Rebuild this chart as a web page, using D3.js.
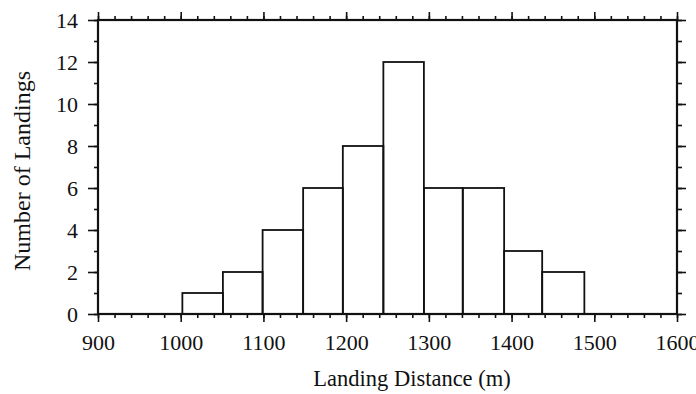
<!DOCTYPE html>
<html>
<head>
<meta charset="utf-8">
<script src="https://cdn.jsdelivr.net/npm/d3@7"></script>
<style>
  html, body { margin: 0; padding: 0; background: #fff; }
  svg { display: block; }
  text { font-family: "Liberation Serif", "Times New Roman", serif; fill: #111; }
</style>
</head>
<body>
<svg id="chart" width="696" height="394"></svg>
<script>
// bin edges (m) and counts
var binEdges = [1002, 1051, 1099, 1148, 1196, 1245, 1294, 1341, 1391, 1437, 1488];
var landingCounts = [1, 2, 4, 6, 8, 12, 6, 6, 3, 2];
var xTickValues = [900, 1000, 1100, 1200, 1300, 1400, 1500, 1600];
var yTickValues = [0, 2, 4, 6, 8, 10, 12, 14];

var svg = d3.select('#chart');
var margin = {top: 20, right: 19, bottom: 80, left: 98},
    width = 696 - margin.left - margin.right,
    height = 394 - margin.top - margin.bottom;

var g = svg.append('g').attr('transform', 'translate(' + margin.left + ',' + margin.top + ')');

var xScale = d3.scaleLinear().domain([900, 1600]).range([0, width]);
var yScale = d3.scaleLinear().domain([0, 14]).range([height, 0]);

var xMinor = d3.range(900, 1601, 20);
var yMinor = d3.range(0, 15, 1);

function styleAxis(sel) {
    sel.select('.domain').remove();
    sel.selectAll('line').attr('stroke', '#111').attr('stroke-width', 1.6);
    sel.selectAll('text').style('font-size', '22px').attr('fill', '#111');
}

// bars
var bins = landingCounts.map(function(c, i) {
    return {x0: binEdges[i], x1: binEdges[i + 1], count: c};
});
g.selectAll('rect.bar').data(bins).enter().append('rect')
    .attr('class', 'bar')
    .attr('x', function(d) { return xScale(d.x0); })
    .attr('y', function(d) { return yScale(d.count); })
    .attr('width', function(d) { return xScale(d.x1) - xScale(d.x0); })
    .attr('height', function(d) { return height - yScale(d.count); })
    .attr('fill', 'none')
    .attr('stroke', '#111')
    .attr('stroke-width', 1.8);

// minor ticks on all four sides
g.append('g').attr('transform', 'translate(0,' + height + ')')
    .call(d3.axisBottom(xScale).tickValues(xMinor).tickSize(4).tickFormat(''))
    .call(styleAxis);
g.append('g')
    .call(d3.axisTop(xScale).tickValues(xMinor).tickSize(4).tickFormat(''))
    .call(styleAxis);
g.append('g')
    .call(d3.axisLeft(yScale).tickValues(yMinor).tickSize(4).tickFormat(''))
    .call(styleAxis);
g.append('g').attr('transform', 'translate(' + width + ',0)')
    .call(d3.axisRight(yScale).tickValues(yMinor).tickSize(5).tickFormat(''))
    .call(styleAxis);

// major ticks
g.append('g').attr('transform', 'translate(0,' + height + ')')
    .call(d3.axisBottom(xScale).tickValues(xTickValues).tickSize(8).tickPadding(12).tickFormat(d3.format('d')))
    .call(styleAxis);
g.append('g')
    .call(d3.axisTop(xScale).tickValues(xTickValues).tickSize(8).tickFormat(''))
    .call(styleAxis);
g.append('g')
    .call(d3.axisLeft(yScale).tickValues(yTickValues).tickSize(10).tickPadding(10).tickFormat(d3.format('d')))
    .call(styleAxis);
g.append('g').attr('transform', 'translate(' + width + ',0)')
    .call(d3.axisRight(yScale).tickValues(yTickValues).tickSize(9).tickFormat(''))
    .call(styleAxis);

// frame
g.append('rect')
    .attr('x', 0).attr('y', 0)
    .attr('width', width).attr('height', height)
    .attr('fill', 'none')
    .attr('stroke', '#111')
    .attr('stroke-width', 2.2);

// axis titles
svg.append('text')
    .attr('x', 412).attr('y', 386)
    .attr('text-anchor', 'middle')
    .style('font-size', '22.5px')
    .text('Landing Distance (m)');

svg.append('text')
    .attr('transform', 'translate(30,171) rotate(-90)')
    .attr('text-anchor', 'middle')
    .style('font-size', '24px')
    .text('Number of Landings');
</script>
</body>
</html>
